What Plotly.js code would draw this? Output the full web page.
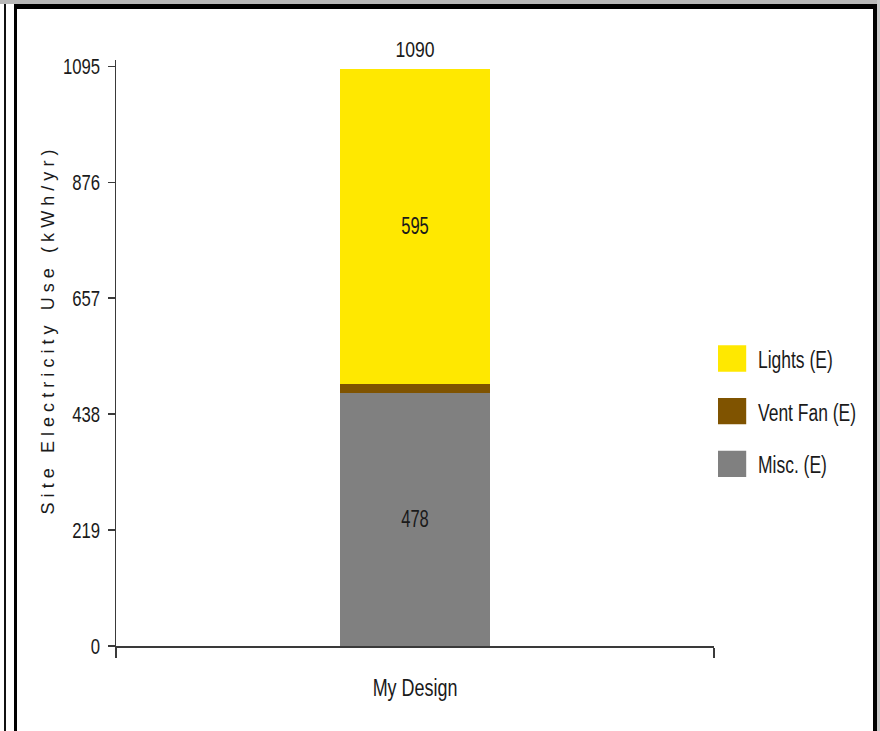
<!DOCTYPE html>
<html>
<head>
<meta charset="utf-8">
<script src="https://cdn.plot.ly/plotly-3.0.1.min.js"></script>
<style>
  html, body { margin: 0; padding: 0; background: #ffffff; }
  #page { position: relative; width: 880px; height: 731px; overflow: hidden; background: #ffffff; }
  /* window frame around the chart */
  #topband { position: absolute; left: 0; top: 0; width: 880px; height: 4px; background: #b8b8b8; }
  #outerline { position: absolute; left: 4px; top: 4px; width: 2px; height: 727px; background: #111; }
  #frame { position: absolute; left: 14px; top: 4px; width: 856px; height: 740px;
           border-left: 3px solid #000; border-top: 5px solid #000; border-right: 4px solid #000; }
  #rightstrip { position: absolute; left: 877px; top: 0; width: 3px; height: 731px; background: #c8c8c8; }
  #chart { position: absolute; left: 0; top: 0; width: 880px; height: 731px; }
  /* large legend swatches */
  #chart .legend .legendpoints path {
    transform-box: fill-box; transform-origin: center;
    transform: translate(12px, 0) scale(2.7, 2.2);
    stroke-width: 0 !important;
  }
  /* tall legend lettering */
  #chart .legend text.legendtext {
    transform-box: fill-box; transform-origin: left center;
    scale: 1 1.3;
  }
  #chart .ytitle { translate: 18px -21px; }
  #chart .textpoint text { translate: 0 -7px; }
</style>
</head>
<body>
<div id="page">
  <div id="topband"></div>
  <div id="outerline"></div>
  <div id="frame"></div>
  <div id="rightstrip"></div>
  <div id="chart"></div>
</div>
<script>
// Site electricity use by end use (kWh/yr), stacked for one design
const categories = ['My Design'];
const seriesNames = ['Misc. (E)', 'Vent Fan (E)', 'Lights (E)'];
const miscValues = [478];
const ventFanValues = [17];
const lightsValues = [595];
const totalValues = [1090];
const yTickValues = [0, 219, 438, 657, 876, 1095];
const yTickLabels = ['0', '219', '438', '657', '876', '1095'];

const SANS = '"Liberation Sans", Arial, sans-serif';
const TEXT_COLOR = '#1a1a1a';

function segment(name, values, color, showLabel, rank) {
  return {
    type: 'bar',
    name: name,
    legendgroup: name,
    legendrank: rank,
    x: categories,
    y: values,
    marker: { color: color, line: { width: 0 } },
    text: showLabel ? values.map(v => String(v)) : values.map(() => ''),
    textposition: 'inside',
    insidetextanchor: 'middle',
    textangle: 0,
    insidetextfont: { family: SANS, size: 23, color: TEXT_COLOR },
    hoverinfo: 'name+y'
  };
}

const traces = [
  segment(seriesNames[0], miscValues, '#808080', true, 3),
  segment(seriesNames[1], ventFanValues, '#7f5300', false, 2),
  segment(seriesNames[2], lightsValues, '#ffe800', true, 1),
  {
    type: 'scatter',
    mode: 'text',
    x: categories,
    y: totalValues,
    text: totalValues.map(v => String(v)),
    textposition: 'top center',
    textfont: { family: SANS, size: 22, color: TEXT_COLOR },
    showlegend: false,
    hoverinfo: 'skip',
    cliponaxis: false
  }
];

const layout = {
  width: 880,
  height: 731,
  margin: { l: 116, r: 166, t: 60, b: 85, autoexpand: false },
  paper_bgcolor: 'rgba(0,0,0,0)',
  plot_bgcolor: 'rgba(0,0,0,0)',
  barmode: 'stack',
  bargap: 0.75,
  showlegend: true,
  font: { family: SANS, size: 20, color: TEXT_COLOR },
  xaxis: {
    type: 'category',
    range: [-0.5, 0.5],
    showline: true,
    linecolor: '#3a3a3a',
    linewidth: 2,
    ticks: 'outside',
    tickson: 'boundaries',
    ticklen: 10,
    tickwidth: 1.5,
    tickcolor: '#3a3a3a',
    ticklabelstandoff: 20,
    tickfont: { family: SANS, size: 23, color: TEXT_COLOR },
    showgrid: false,
    zeroline: false,
    fixedrange: true
  },
  yaxis: {
    range: [0, 1107],
    tickmode: 'array',
    tickvals: yTickValues,
    ticktext: yTickLabels,
    showline: true,
    linecolor: '#3a3a3a',
    linewidth: 1.5,
    ticks: 'outside',
    ticklen: 7,
    tickwidth: 1.5,
    tickcolor: '#3a3a3a',
    ticklabelstandoff: 3,
    tickfont: { family: SANS, size: 22, color: TEXT_COLOR },
    showgrid: false,
    zeroline: false,
    fixedrange: true,
    title: {
      text: 'Site Electricity Use (kWh/yr)',
      font: { family: SANS, size: 18, color: TEXT_COLOR },
      standoff: 10
    }
  },
  legend: {
    x: 1.0067,
    xanchor: 'left',
    y: 0.40,
    yanchor: 'middle',
    traceorder: 'grouped',
    tracegroupgap: 25,
    bgcolor: 'rgba(0,0,0,0)',
    font: { family: SANS, size: 19, color: TEXT_COLOR },
    itemwidth: 30
  }
};

// Narrow the label glyphs horizontally, keeping each label's anchor in place.
function narrowText(selector, factor) {
  document.querySelectorAll(selector).forEach(function (t) {
    const len = t.getComputedTextLength();
    if (len > 0) {
      t.setAttribute('textLength', (len * factor).toFixed(2));
      t.setAttribute('lengthAdjust', 'spacingAndGlyphs');
    }
  });
}

// Spread the axis title letters out to a fixed length.
function spreadText(selector, length) {
  document.querySelectorAll(selector).forEach(function (t) {
    t.setAttribute('textLength', String(length));
    t.setAttribute('lengthAdjust', 'spacing');
  });
}

function styleText() {
  narrowText('#chart .ytick text', 0.76);
  narrowText('#chart .xtick text', 0.78);
  narrowText('#chart .legendtext', 0.92);
  narrowText('#chart text.bartext', 0.72);
  narrowText('#chart .textpoint text', 0.8);
  spreadText('#chart .ytitle', 365);
}

Plotly.newPlot('chart', traces, layout, { displayModeBar: false, staticPlot: true }).then(styleText);
</script>
</body>
</html>
